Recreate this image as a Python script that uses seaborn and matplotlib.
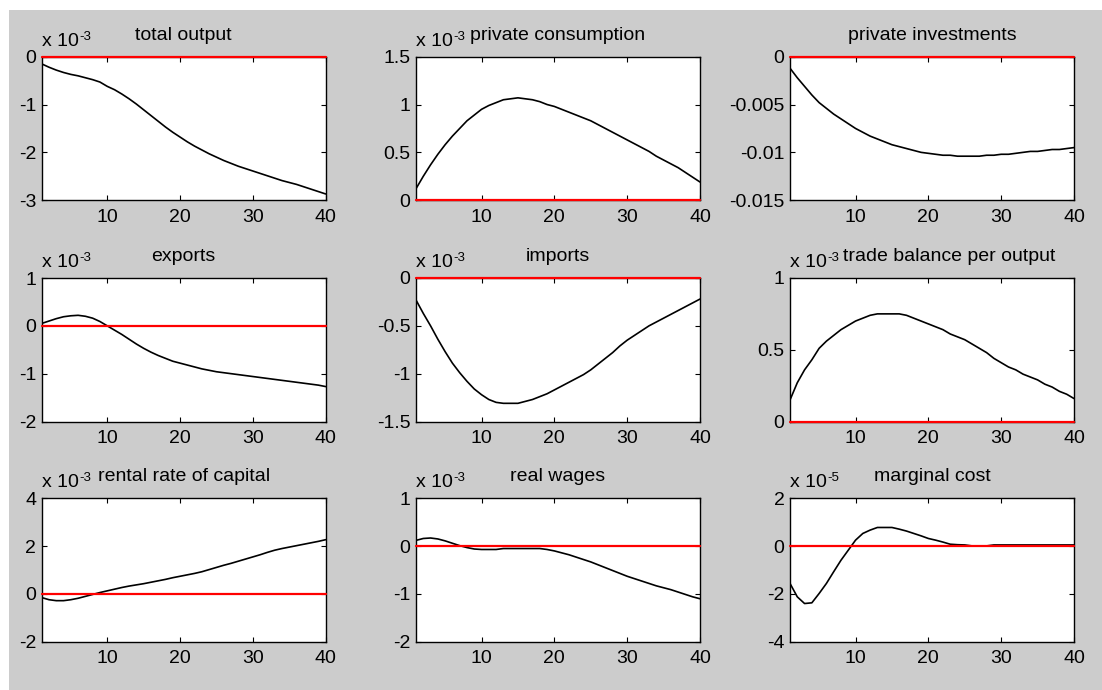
import numpy as np
import pandas as pd
import matplotlib
matplotlib.use("Agg")
import matplotlib.pyplot as plt
import seaborn as sns
from matplotlib.patches import Rectangle

# ---------------- data ----------------
periods = list(range(1, 41))

titles = ["total output", "private consumption", "private investments",
          "exports", "imports", "trade balance per output",
          "rental rate of capital", "real wages", "marginal cost"]

exponents = ["-3", "-3", None, "-3", "-3", "-3", "-3", "-3", "-5"]

total_output = [-0.15, -0.22, -0.28, -0.33, -0.37, -0.40, -0.44, -0.48, -0.53, -0.62,
                -0.69, -0.78, -0.88, -0.99, -1.11, -1.23, -1.35, -1.47, -1.58, -1.68,
                -1.78, -1.87, -1.95, -2.03, -2.10, -2.17, -2.23, -2.29, -2.34, -2.39,
                -2.44, -2.49, -2.54, -2.59, -2.63, -2.67, -2.72, -2.77, -2.82, -2.87]

private_consumption = [0.12, 0.25, 0.37, 0.48, 0.58, 0.67, 0.75, 0.83, 0.89, 0.95,
                       0.99, 1.02, 1.05, 1.06, 1.07, 1.06, 1.05, 1.03, 1.00, 0.98,
                       0.95, 0.92, 0.89, 0.86, 0.83, 0.79, 0.75, 0.71, 0.67, 0.63,
                       0.59, 0.55, 0.51, 0.46, 0.42, 0.38, 0.34, 0.29, 0.24, 0.19]

private_investments = [-0.0012, -0.0022, -0.0031, -0.0040, -0.0048, -0.0054, -0.0060, -0.0065, -0.0070, -0.0075,
                       -0.0079, -0.0083, -0.0086, -0.0089, -0.0092, -0.0094, -0.0096, -0.0098, -0.0100, -0.0101,
                       -0.0102, -0.0103, -0.0103, -0.0104, -0.0104, -0.0104, -0.0104, -0.0103, -0.0103, -0.0102,
                       -0.0102, -0.0101, -0.0100, -0.0099, -0.0099, -0.0098, -0.0097, -0.0097, -0.0096, -0.0095]

exports = [0.05, 0.10, 0.15, 0.19, 0.21, 0.22, 0.20, 0.16, 0.09, 0.00,
           -0.09, -0.18, -0.28, -0.38, -0.47, -0.55, -0.62, -0.68, -0.74, -0.78,
           -0.82, -0.86, -0.90, -0.93, -0.96, -0.98, -1.00, -1.02, -1.04, -1.06,
           -1.08, -1.10, -1.12, -1.14, -1.16, -1.18, -1.20, -1.22, -1.24, -1.27]

imports = [-0.23, -0.37, -0.50, -0.64, -0.77, -0.89, -0.99, -1.08, -1.16, -1.22,
           -1.27, -1.30, -1.31, -1.31, -1.31, -1.29, -1.27, -1.24, -1.21, -1.17,
           -1.13, -1.09, -1.05, -1.01, -0.96, -0.90, -0.84, -0.78, -0.71, -0.65,
           -0.60, -0.55, -0.50, -0.46, -0.42, -0.38, -0.34, -0.30, -0.26, -0.22]

trade_balance = [0.15, 0.27, 0.36, 0.43, 0.51, 0.56, 0.60, 0.64, 0.67, 0.70,
                 0.72, 0.74, 0.75, 0.75, 0.75, 0.75, 0.74, 0.72, 0.70, 0.68,
                 0.66, 0.64, 0.61, 0.59, 0.57, 0.54, 0.51, 0.48, 0.44, 0.41,
                 0.38, 0.36, 0.33, 0.31, 0.29, 0.26, 0.24, 0.21, 0.19, 0.16]

rental_rate = [-0.15, -0.24, -0.28, -0.28, -0.24, -0.18, -0.10, -0.02, 0.06, 0.13,
               0.20, 0.27, 0.33, 0.38, 0.43, 0.49, 0.55, 0.61, 0.68, 0.74,
               0.80, 0.86, 0.93, 1.02, 1.11, 1.20, 1.28, 1.37, 1.46, 1.55,
               1.64, 1.74, 1.83, 1.90, 1.96, 2.02, 2.08, 2.14, 2.20, 2.27]

real_wages = [0.12, 0.16, 0.17, 0.15, 0.11, 0.06, 0.01, -0.03, -0.06, -0.07,
              -0.07, -0.07, -0.05, -0.05, -0.05, -0.05, -0.05, -0.05, -0.07, -0.10,
              -0.14, -0.18, -0.23, -0.28, -0.33, -0.39, -0.45, -0.51, -0.57, -0.63,
              -0.68, -0.73, -0.78, -0.83, -0.87, -0.91, -0.96, -1.01, -1.06, -1.10]

marginal_cost = [-1.56, -2.12, -2.40, -2.37, -1.98, -1.56, -1.07, -0.59, -0.17, 0.25,
                 0.53, 0.67, 0.78, 0.78, 0.78, 0.71, 0.63, 0.53, 0.43, 0.32,
                 0.25, 0.17, 0.08, 0.06, 0.05, 0.01, 0.01, 0.01, 0.05, 0.05,
                 0.05, 0.05, 0.05, 0.05, 0.05, 0.05, 0.05, 0.05, 0.05, 0.05]

series = [total_output, private_consumption, private_investments,
          exports, imports, trade_balance,
          rental_rate, real_wages, marginal_cost]

y_ticks = [[-3, -2, -1, 0], [0, 0.5, 1, 1.5], [-0.015, -0.01, -0.005, 0],
           [-2, -1, 0, 1], [-1.5, -1, -0.5, 0], [0, 0.5, 1],
           [-2, 0, 2, 4], [-2, -1, 0, 1], [-4, -2, 0, 2]]
y_tick_labels = [["-3", "-2", "-1", "0"], ["0", "0.5", "1", "1.5"],
                 ["-0.015", "-0.01", "-0.005", "0"],
                 ["-2", "-1", "0", "1"], ["-1.5", "-1", "-0.5", "0"], ["0", "0.5", "1"],
                 ["-2", "0", "2", "4"], ["-2", "-1", "0", "1"], ["-4", "-2", "0", "2"]]
x_ticks = [10, 20, 30, 40]
x_tick_labels = ["10", "20", "30", "40"]
steady_state = 0

# ---------------- style ----------------
sns.set_theme(style="ticks")
plt.rcParams["font.family"] = ["Liberation Sans", "DejaVu Sans"]
plt.rcParams["axes.linewidth"] = 1.0

W, H = 1102, 690
fig = plt.figure(figsize=(W / 100, H / 100), dpi=100, facecolor="white")
fig.patches.append(Rectangle((8.5 / W, 0), 1 - 8.5 / W, 1 - 10 / H,
                             transform=fig.transFigure, facecolor="#cccccc",
                             edgecolor="none", zorder=-10))

col_left = [41.7, 416, 790]
row_top = [56.7, 278, 498.3]
ax_w, ax_h = 284, 143.5

fs = 14
for i in range(9):
    r, c = divmod(i, 3)
    left = col_left[c] / W
    bottom = (H - row_top[r] - ax_h) / H
    ax = fig.add_axes([left, bottom, ax_w / W, ax_h / H])
    ax.set_facecolor("white")
    df = pd.DataFrame({"period": periods, "value": series[i]})
    sns.lineplot(data=df, x="period", y="value", ax=ax, color="black",
                 linewidth=1.2, zorder=2)
    ax.axhline(steady_state, color="red", linewidth=1.6, zorder=3, clip_on=False)
    ax.set_xlim(1, 40)
    ax.set_ylim(y_ticks[i][0], y_ticks[i][-1])
    ax.set_xticks(x_ticks)
    ax.set_xticklabels(x_tick_labels)
    ax.set_yticks(y_ticks[i])
    ax.set_yticklabels(y_tick_labels[i])
    ax.set_xlabel("")
    ax.set_ylabel("")
    ax.tick_params(direction="in", length=3.5, width=0.8, top=True, right=True,
                   labelsize=fs, colors="black", pad=4)
    ax.tick_params(axis="x", pad=6)
    for s in ax.spines.values():
        s.set_visible(True)
        s.set_color("black")
        s.set_linewidth(1.0)
    if i == 5:
        # long title pushed right of the exponent label, as in the reference
        ax.text(53.0 / ax_w, 1 + 17.0 / ax_h, titles[i], transform=ax.transAxes,
                ha="left", va="baseline", fontsize=fs, color="black")
    else:
        ax.text(0.5, 1 + 17.0 / ax_h, titles[i], transform=ax.transAxes,
                ha="center", va="baseline", fontsize=fs, color="black")
    if exponents[i] is not None:
        ax.text(0.0, 1 + 11.0 / ax_h, "x 10", transform=ax.transAxes,
                ha="left", va="baseline", fontsize=fs, color="black")
        ax.text(37.5 / ax_w, 1 + 17.0 / ax_h, exponents[i], transform=ax.transAxes,
                ha="left", va="baseline", fontsize=9.5, color="black")

fig.savefig("out.png", dpi=100, facecolor="white")
